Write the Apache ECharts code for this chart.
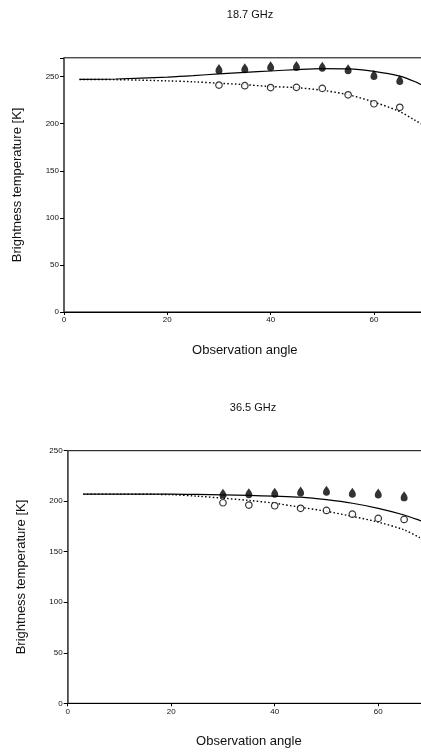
<!DOCTYPE html>
<html>
<head>
<meta charset="utf-8">
<script src="https://cdn.jsdelivr.net/npm/echarts@6/dist/echarts.min.js"></script>
<style>
html,body{margin:0;padding:0;background:#fff;overflow:hidden;}
#chart{width:421px;height:754px;}
</style>
</head>
<body>
<div id="chart"></div>
<script>
// ---- data ----
var titles = ['18.7 GHz', '36.5 GHz'];
var xTicks = [0, 20, 40, 60];
var yTicksTop = [0, 50, 100, 150, 200, 250];
var yTicksBottom = [0, 50, 100, 150, 200, 250];

var obsAngles = [30, 35, 40, 45, 50, 55, 60, 65];
var tb19Filled = [258, 259, 261, 261.3, 260.6, 257.8, 251.8, 246.5];
var tb19Open = [241, 240.4, 238.4, 238.6, 237.5, 230.7, 221.2, 217.4];
var tb37Filled = [207.4, 207.9, 208.5, 209.6, 210.4, 208.5, 207.6, 204.8];
var tb37Open = [198.5, 196.2, 195.5, 193, 190.9, 187.2, 183, 182];

var modelAngles = [3, 10, 20, 25, 30, 35, 40, 45, 50, 55, 60, 65, 68, 70];
var tb19Solid = [247, 247.5, 249.5, 251, 253, 254.5, 256, 257.5, 258.5, 258.2, 255.5, 250.5, 244.5, 239];
var tb19Dotted = [247, 246.8, 245.5, 244.5, 243, 241.5, 239.5, 238.3, 235.5, 230.8, 223, 212.8, 203.5, 197];
var tb37Solid = [207, 207, 207, 206.7, 206.2, 205.7, 205, 204, 201.5, 198, 193, 186.4, 181, 177];
var tb37Dotted = [207, 207, 206.5, 205, 203, 200.8, 198, 194, 190, 185, 179.3, 171.6, 164, 158.5];

function pairs(xs, ys) { return xs.map(function (x, i) { return [x, ys[i]]; }); }

var tear = 'path://M5,0 C6.5,3 10,5.5 10,9.5 A5,5 0 0 1 0,9.5 C0,5.5 3.5,3 5,0 Z';
var FONT = 'Liberation Sans, Arial, sans-serif';

function xAxisCfg(gi, gap) {
  return {
    type: 'value', gridIndex: gi, min: 0, max: 70, interval: 20,
    name: 'Observation angle', nameLocation: 'middle', nameGap: gap,
    nameTextStyle: { fontFamily: FONT, fontSize: 13, color: '#111' },
    axisLine: { show: true, lineStyle: { color: '#000', width: 1 } },
    axisTick: { show: true, length: 3, lineStyle: { color: '#000' } },
    axisLabel: { fontFamily: FONT, fontSize: 8, color: '#111', margin: 4,
      formatter: function (v) { return xTicks.indexOf(v) >= 0 ? String(v) : ''; } },
    splitLine: { show: false }
  };
}
function yAxisCfg(gi, max, ticks) {
  return {
    type: 'value', gridIndex: gi, min: 0, max: max, interval: 50,
    name: 'Brightness temperature [K]', nameLocation: 'middle', nameGap: 40,
    nameTextStyle: { fontFamily: FONT, fontSize: 13, color: '#111' },
    axisLine: { show: true, lineStyle: { color: '#555', width: 1.5 } },
    axisTick: { show: true, length: 4, lineStyle: { color: '#000' } },
    axisLabel: { fontFamily: FONT, fontSize: 8, color: '#111', margin: 5,
      formatter: function (v) { return ticks.indexOf(v) >= 0 ? String(v) : ''; } },
    splitLine: { show: false }
  };
}
function lineSeries(gi, xs, ys, dotted) {
  return {
    type: 'line', xAxisIndex: gi, yAxisIndex: gi, data: pairs(xs, ys),
    smooth: 0.3, showSymbol: false, symbol: 'none', z: 2,
    lineStyle: dotted ? { color: '#000', width: 1.4, type: [1.5, 2.2] } : { color: '#000', width: 1.2 }
  };
}
function filledSeries(gi, xs, ys) {
  return {
    type: 'scatter', xAxisIndex: gi, yAxisIndex: gi, data: pairs(xs, ys),
    symbol: tear, symbolSize: [7, 10], z: 3,
    itemStyle: { color: '#000' }
  };
}
function openSeries(gi, xs, ys) {
  return {
    type: 'scatter', xAxisIndex: gi, yAxisIndex: gi, data: pairs(xs, ys),
    symbol: 'circle', symbolSize: 6.5, z: 3,
    itemStyle: { color: '#fff', borderColor: '#000', borderWidth: 1.2 }
  };
}

var chart = echarts.init(document.getElementById('chart'), null, { renderer: 'canvas' });
chart.setOption({
  animation: false,
  backgroundColor: '#fff',
  title: [
    { text: titles[0], left: 245, top: 4, textAlign: 'center',
      textStyle: { fontFamily: FONT, fontSize: 11, fontWeight: 'normal', color: '#111' } },
    { text: titles[1], left: 248, top: 397, textAlign: 'center',
      textStyle: { fontFamily: FONT, fontSize: 11, fontWeight: 'normal', color: '#111' } }
  ],
  grid: [
    { left: 64, top: 57.8, width: 361.6, height: 254.2, show: true, borderColor: '#000', borderWidth: 1, containLabel: false, outerBoundsMode: 'none' },
    { left: 67.7, top: 450.7, width: 362.3, height: 252.6, show: true, borderColor: '#000', borderWidth: 1, containLabel: false, outerBoundsMode: 'none' }
  ],
  xAxis: [xAxisCfg(0, 32), xAxisCfg(1, 32)],
  yAxis: [yAxisCfg(0, 270, yTicksTop), yAxisCfg(1, 250, yTicksBottom)],
  series: [
    lineSeries(0, modelAngles, tb19Solid, false),
    lineSeries(0, modelAngles, tb19Dotted, true),
    filledSeries(0, obsAngles, tb19Filled),
    openSeries(0, obsAngles, tb19Open),
    lineSeries(1, modelAngles, tb37Solid, false),
    lineSeries(1, modelAngles, tb37Dotted, true),
    filledSeries(1, obsAngles, tb37Filled),
    openSeries(1, obsAngles, tb37Open)
  ]
});
</script>
</body>
</html>
